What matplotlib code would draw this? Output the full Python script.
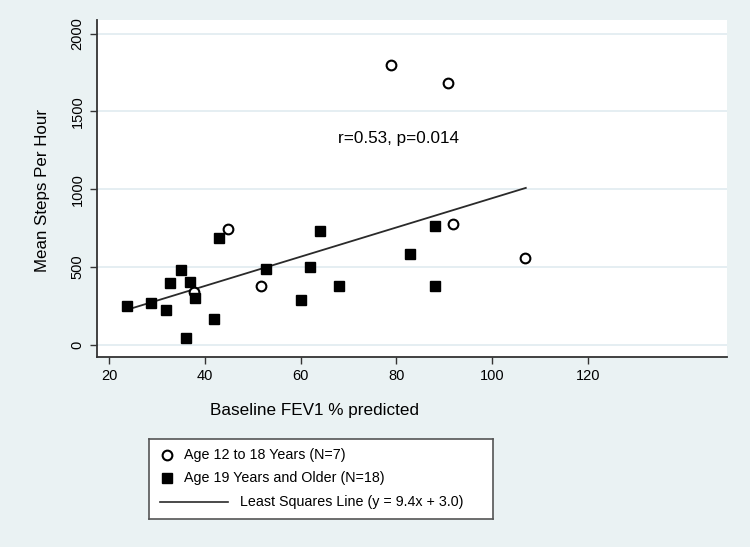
import numpy as np
import matplotlib.pyplot as plt

plt.rcParams['font.family'] = ['Liberation Sans', 'DejaVu Sans']

# age 12-18 (open circles)
young_fev1 = [78.8, 90.8, 44.8, 51.8, 91.8, 106.8, 37.8]
young_steps = [1796, 1680, 745, 377, 774, 560, 340]

# age 19+ (filled squares)
adult_fev1 = [23.8, 28.8, 31.8, 32.8, 35.0, 36.0, 37.0, 38.0, 42.0, 43.0,
              52.8, 60.0, 62.0, 64.0, 68.0, 82.8, 88.0, 88.0]
adult_steps = [252, 267, 224, 396, 480, 47, 407, 300, 170, 690,
               489, 291, 504, 735, 377, 582, 765, 377]

slope, intercept = 9.4, 3.0
fit_range = [24, 107]

xticks = [20, 40, 60, 80, 100, 120]
yticks = [0, 500, 1000, 1500, 2000]

bg = '#eaf2f3'
W, H = 750, 547
fig = plt.figure(figsize=(7.5, 5.47), dpi=100, facecolor=bg)
ax = fig.add_axes([97 / W, (H - 357) / H, (727 - 97) / W, (357 - 20) / H])
ax.set_facecolor('white')

for yv in yticks:
    ax.axhline(yv, color='#e3edf1', lw=1.3, zorder=0)

fx = np.array(fit_range, dtype=float)
ax.plot(fx, slope * fx + intercept, color='#2a2a2a', lw=1.3, zorder=2)
ax.plot(young_fev1, young_steps, 'o', mfc='white', mec='black', mew=1.5,
        ms=7, ls='none', zorder=3)
ax.plot(adult_fev1, adult_steps, 's', color='black', ms=7.5, ls='none', zorder=4)

ax.text(80.5, 1325, 'r=0.53, p=0.014', ha='center', va='center', fontsize=12.3)

ax.set_xlim(17.5, 149)
ax.set_ylim(-77, 2087)
ax.set_xticks(xticks)
ax.set_yticks(yticks)
ax.set_yticklabels([str(v) for v in yticks], rotation=90, va='center')
ax.tick_params(axis='both', labelsize=10.5, direction='out', length=5,
               width=1, color='#333333', pad=4)
for s in ['top', 'right']:
    ax.spines[s].set_visible(False)
for s in ['left', 'bottom']:
    ax.spines[s].set_color('#333333')
    ax.spines[s].set_linewidth(1.3)

fig.text(314 / W, 1 - 410 / H, 'Baseline FEV1 % predicted', ha='center',
         va='center', fontsize=12.3)
fig.text(43 / W, 1 - 191 / H, 'Mean Steps Per Hour', ha='center', va='center',
         rotation=90, fontsize=12.2)

# legend box drawn in its own pixel frame
lx0, lx1, ly0, ly1 = 149, 493, 439, 519
lax = fig.add_axes([lx0 / W, (H - ly1) / H, (lx1 - lx0) / W, (ly1 - ly0) / H])
lax.set_xlim(lx0, lx1)
lax.set_ylim(ly1, ly0)
lax.set_xticks([])
lax.set_yticks([])
lax.set_facecolor('white')
for s in lax.spines.values():
    s.set_color('#555555')
    s.set_linewidth(1.2)
lax.plot([167], [455], 'o', mfc='white', mec='black', mew=1.5, ms=7)
lax.plot([167], [478], 's', color='black', ms=7.5)
lax.plot([160, 228], [502, 502], color='#2a2a2a', lw=1.2)
lax.text(184, 455, 'Age 12 to 18 Years (N=7)', va='center', fontsize=10.3)
lax.text(184, 478, 'Age 19 Years and Older (N=18)', va='center', fontsize=10.3)
lax.text(240, 502, 'Least Squares Line (y = 9.4x + 3.0)', va='center', fontsize=10.3)

fig.savefig('out.png', dpi=100, facecolor=bg)
